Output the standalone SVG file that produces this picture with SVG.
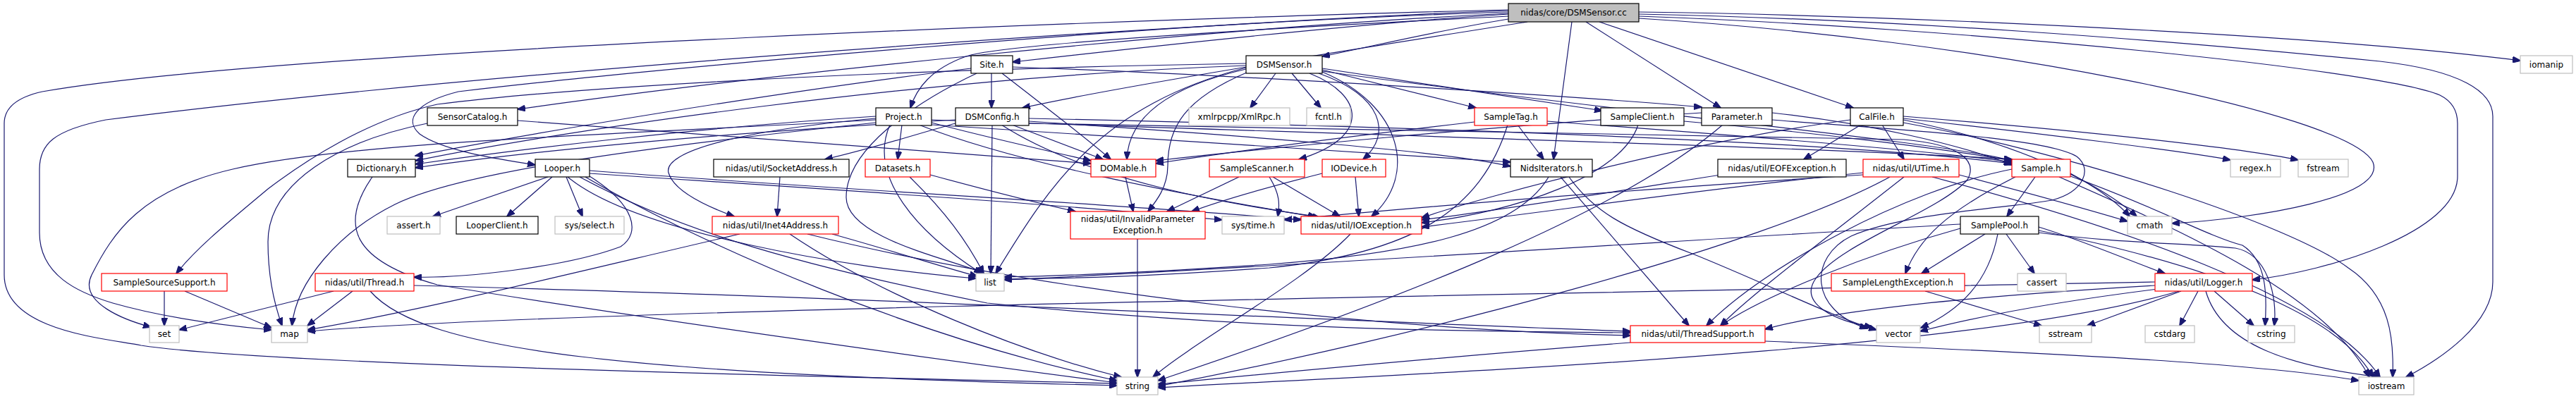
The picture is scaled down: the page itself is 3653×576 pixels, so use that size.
<svg xmlns="http://www.w3.org/2000/svg" width="3653" height="576" viewBox="0 0 3653 576">
<defs>
<marker id="a" markerWidth="12" markerHeight="9" refX="11" refY="4.5" orient="auto" markerUnits="userSpaceOnUse"><path d="M0,0 L12,4.5 L0,9 z" fill="#191970" stroke="#191970" stroke-width="1"/></marker>
</defs>
<style>
.e path{fill:none;stroke:#191970;stroke-width:1.2;marker-end:url(#a)}
rect{fill:#ffffff;stroke-width:1.2}
.k rect{stroke:#000000}
.r rect{stroke:#ff0000}
.g rect{stroke:#bfbfbf}
.root rect{fill:#bfbfbf;stroke:#000000}
text{font-family:"DejaVu Sans","Liberation Sans",sans-serif;font-size:12px;text-anchor:middle;fill:#000000}
</style>
<rect x="0" y="0" width="3653" height="576" fill="#ffffff" stroke="none"/>
<g id="edges" class="e">
<path d="M2139,14 C1700,24 400,70 60,130 C15,140 6,160 6,175 L6,390 C6,470 150,480 200,490 C400,520 1300,537 1584,544"/>
<path d="M2139,17 C1700,30 700,100 150,170 C75,185 56,205 56,240 L56,330 C56,390 110,415 160,430 C230,450 320,462 385,468"/>
<path d="M2139,20 C1900,35 1550,75 1436,88"/>
<path d="M2139,27 C2030,45 1950,65 1875,80"/>
<path d="M2166,31 C1950,65 1600,120 1450,153"/>
<path d="M2139,23 C1800,40 1420,62 1370,80 C1320,98 1300,125 1291,153"/>
<path d="M2139,19 C1700,40 1050,110 734,155"/>
<path d="M2139,15 C1600,35 900,100 650,130 C590,145 572,170 595,190 C630,215 710,226 759,234"/>
<path d="M2229,31 L2203,226"/>
<path d="M2249,31 L2440,153"/>
<path d="M2268,31 L2628,153"/>
<path d="M2324,17 C2700,22 3300,50 3574,86"/>
<path d="M2324,20 C2700,28 3050,55 3375,87 C3490,100 3535,130 3535,165 L3535,400 C3535,460 3460,510 3412,535"/>
<path d="M2324,23 C2800,40 3380,100 3460,135 C3480,145 3485,160 3485,175 L3485,250 C3485,330 3300,385 3194,397"/>
<path d="M2324,26 C2800,55 3330,160 3365,230 C3385,280 3200,310 3080,317"/>
<path d="M1406,104 L1406,153"/>
<path d="M1421,104 C1480,150 1540,195 1575,226"/>
<path d="M1436,95 C1800,108 2250,138 2413,152"/>
<path d="M1377,97 C1100,130 750,190 589,221"/>
<path d="M1385,104 C1330,130 1200,200 1200,280 C1200,340 1360,370 1395,388"/>
<path d="M1809,104 L1773,153"/>
<path d="M1832,104 L1873,153"/>
<path d="M1857,104 C1935,135 1945,195 1842,226"/>
<path d="M1870,104 C1960,135 1975,190 1933,226"/>
<path d="M1875,102 C1990,150 2010,250 1945,307"/>
<path d="M1875,99 L2093,153"/>
<path d="M1875,97 L2272,157"/>
<path d="M1767,98 C1650,125 1600,170 1598,226"/>
<path d="M1770,102 C1680,140 1656,180 1656,235 C1656,265 1640,285 1628,300"/>
<path d="M1767,96 C1560,150 1490,260 1412,388"/>
<path d="M1767,93 C1300,110 800,185 589,228"/>
<path d="M1767,90 C1200,100 800,125 620,148 C520,170 430,230 380,268 C330,310 280,350 250,388"/>
<path d="M1875,101 C2300,160 2750,200 2853,228"/>
<path d="M606,175 C480,200 380,260 380,343 C380,400 392,440 400,462"/>
<path d="M734,171 C1100,200 1400,220 1547,232"/>
<path d="M1279,177 L1273,226"/>
<path d="M1242,165 C1000,180 750,210 589,233"/>
<path d="M1321,174 C1400,195 1490,215 1547,228"/>
<path d="M1262,177 C1230,250 1300,330 1392,388"/>
<path d="M1303,177 C1450,235 1700,280 1872,309"/>
<path d="M1242,168 C1050,185 940,215 948,245 C955,270 1000,292 1041,307"/>
<path d="M1321,177 C1700,200 2000,220 2142,230"/>
<path d="M1242,174 C900,210 650,245 560,290 C480,330 420,400 414,462"/>
<path d="M1242,170 C900,190 500,200 330,240 C200,270 160,330 130,390 C110,430 180,455 214,464"/>
<path d="M1321,170 C1900,190 2600,210 2853,226"/>
<path d="M1407,177 L1405,388"/>
<path d="M1355,175 C1300,190 1240,210 1170,226"/>
<path d="M1435,177 L1564,226"/>
<path d="M1355,170 C1000,190 750,215 589,238"/>
<path d="M1459,172 C1800,195 2050,215 2142,236"/>
<path d="M1459,168 C2000,180 2600,200 2853,232"/>
<path d="M1420,177 C1550,260 1750,290 1866,307"/>
<path d="M1459,175 C1800,185 2300,188 2700,198 C2780,205 2805,228 2790,255 C2750,300 2610,345 2575,395 C2550,430 2600,455 2655,464"/>
<path d="M777,251 L614,307"/>
<path d="M783,251 L719,307"/>
<path d="M803,251 L826,307"/>
<path d="M836,250 C900,290 910,330 880,350 C800,380 650,395 587,393"/>
<path d="M836,242 C1200,270 1600,290 1845,312"/>
<path d="M836,246 C1200,270 1500,290 1733,312"/>
<path d="M822,251 C950,320 1100,370 1400,430 C1800,470 2100,470 2312,472"/>
<path d="M805,251 C900,330 1200,380 1384,395"/>
<path d="M830,251 C1000,350 1300,480 1584,540"/>
<path d="M528,251 C480,320 500,370 620,404 C900,450 1400,520 1584,543"/>
<path d="M1106,251 L1102,307"/>
<path d="M1049,332 C800,390 600,440 436,468"/>
<path d="M1120,332 C1250,420 1450,500 1590,535"/>
<path d="M1145,332 C1500,420 2000,470 2312,476"/>
<path d="M1180,332 C1280,360 1340,380 1386,392"/>
<path d="M1319,248 C1400,270 1480,290 1525,300"/>
<path d="M1290,251 C1340,300 1370,340 1395,388"/>
<path d="M1596,251 L1607,300"/>
<path d="M1757,251 L1655,300"/>
<path d="M1805,251 L1900,307"/>
<path d="M1800,251 C1815,275 1815,290 1812,307"/>
<path d="M1922,251 L1927,307"/>
<path d="M1875,246 C1800,265 1730,285 1690,300"/>
<path d="M1915,332 C1850,400 1700,480 1635,535"/>
<path d="M1613,339 L1613,535"/>
<path d="M2152,177 L2189,226"/>
<path d="M2091,173 C1900,195 1750,215 1639,232"/>
<path d="M2138,177 C2100,300 2000,360 1800,380 C1600,395 1480,395 1424,396"/>
<path d="M2194,172 C2500,195 2750,215 2853,230"/>
<path d="M2323,177 C2300,250 2150,300 2016,316"/>
<path d="M2388,172 C2600,190 2780,215 2853,228"/>
<path d="M2443,177 C2300,300 2000,420 1642,540"/>
<path d="M2413,160 C2100,180 1800,210 1639,228"/>
<path d="M2513,160 C2650,175 2780,205 2853,234"/>
<path d="M2513,170 C2700,185 2900,195 2945,222 C2968,240 2955,272 2910,284 C2850,295 2700,302 2625,335 C2565,365 2565,440 2648,466"/>
<path d="M2639,177 L2558,226"/>
<path d="M2669,177 L2700,226"/>
<path d="M2699,168 C2900,190 3100,215 3163,227"/>
<path d="M2699,165 C2950,185 3180,210 3259,227"/>
<path d="M2624,170 C2400,200 2100,280 2016,309"/>
<path d="M2699,174 C2950,220 3250,320 3330,380 C3390,420 3395,480 3393,535"/>
<path d="M2699,170 C2900,210 3000,280 3030,307"/>
<path d="M2213,251 L2395,462"/>
<path d="M2196,251 C2150,330 2000,360 1800,375 C1600,388 1480,392 1424,393"/>
<path d="M2225,251 C2260,300 2300,322 2400,360 C2500,400 2600,450 2661,468"/>
<path d="M2440,248 C2300,270 2150,295 2016,312"/>
<path d="M2642,245 C2400,270 2200,300 2016,322"/>
<path d="M2680,251 C2500,350 2000,480 1642,548"/>
<path d="M2642,248 C2300,270 2000,295 1821,312"/>
<path d="M2740,251 C3000,320 3300,420 3375,535"/>
<path d="M2700,251 C2600,330 2480,420 2440,462"/>
<path d="M2778,248 C2900,280 2970,300 3017,314"/>
<path d="M2886,251 L2846,307"/>
<path d="M2858,251 C2760,300 2720,340 2702,388"/>
<path d="M2936,246 C2980,270 3005,290 3020,307"/>
<path d="M2853,240 C2700,270 2500,380 2420,462"/>
<path d="M2920,251 C3100,330 3300,420 3360,535"/>
<path d="M2936,250 C3050,290 3130,335 3180,348 C3215,370 3215,420 3212,462"/>
<path d="M2845,332 L2885,388"/>
<path d="M2815,332 L2725,388"/>
<path d="M2833,332 C2820,400 2780,440 2724,465"/>
<path d="M2891,322 C2950,340 3020,370 3070,388"/>
<path d="M2780,324 C2650,360 2500,420 2440,462"/>
<path d="M2780,318 C2400,340 1800,380 1424,397"/>
<path d="M2891,330 C3000,345 3100,345 3170,352 C3215,360 3230,420 3225,462"/>
<path d="M2891,327 C3150,380 3320,450 3365,535"/>
<path d="M2730,413 L2895,462"/>
<path d="M3117,413 L3091,462"/>
<path d="M3140,413 L3196,462"/>
<path d="M3128,413 C3150,490 3250,520 3375,535"/>
<path d="M3056,405 C2800,420 2600,440 2503,467"/>
<path d="M3093,413 L2960,462"/>
<path d="M3060,410 C2900,430 2800,450 2723,470"/>
<path d="M3056,400 C2000,420 800,440 436,470"/>
<path d="M3090,413 C2800,500 2000,530 1642,550"/>
<path d="M473,413 L254,468"/>
<path d="M500,413 L436,462"/>
<path d="M525,413 C600,500 900,530 1584,547"/>
<path d="M587,405 C1200,420 2000,460 2312,470"/>
<path d="M233,413 L233,462"/>
<path d="M262,413 L385,465"/>
<path d="M2312,486 C2000,510 1800,530 1642,545"/>
<path d="M2503,484 C2900,500 3200,515 3345,540"/>
</g>
<g id="n_root" class="root"><rect x="2139" y="5" width="185" height="26"/><text x="2231.5" y="22">nidas/core/DSMSensor.cc</text></g>
<g id="n_site" class="k"><rect x="1377" y="79" width="59" height="25"/><text x="1406.5" y="95.5">Site.h</text></g>
<g id="n_dsmsensor" class="k"><rect x="1767" y="79" width="108" height="25"/><text x="1821" y="95.5">DSMSensor.h</text></g>
<g id="n_iomanip" class="g"><rect x="3574" y="79" width="74" height="25"/><text x="3611" y="95.5">iomanip</text></g>
<g id="n_sensorcatalog" class="k"><rect x="606" y="153" width="128" height="25"/><text x="670" y="169.5">SensorCatalog.h</text></g>
<g id="n_project" class="k"><rect x="1242" y="153" width="79" height="25"/><text x="1281.5" y="169.5">Project.h</text></g>
<g id="n_dsmconfig" class="k"><rect x="1355" y="153" width="104" height="25"/><text x="1407" y="169.5">DSMConfig.h</text></g>
<g id="n_xmlrpc" class="g"><rect x="1686" y="153" width="143" height="25"/><text x="1757.5" y="169.5">xmlrpcpp/XmlRpc.h</text></g>
<g id="n_fcntl" class="g"><rect x="1853" y="153" width="62" height="25"/><text x="1884" y="169.5">fcntl.h</text></g>
<g id="n_sampletag" class="r"><rect x="2091" y="153" width="103" height="25"/><text x="2142.5" y="169.5">SampleTag.h</text></g>
<g id="n_sampleclient" class="k"><rect x="2270" y="153" width="118" height="25"/><text x="2329" y="169.5">SampleClient.h</text></g>
<g id="n_parameter" class="k"><rect x="2413" y="153" width="100" height="25"/><text x="2463" y="169.5">Parameter.h</text></g>
<g id="n_calfile" class="k"><rect x="2624" y="153" width="75" height="25"/><text x="2661.5" y="169.5">CalFile.h</text></g>
<g id="n_dictionary" class="k"><rect x="493" y="226" width="96" height="25"/><text x="541" y="242.5">Dictionary.h</text></g>
<g id="n_looper" class="k"><rect x="759" y="226" width="77" height="25"/><text x="797.5" y="242.5">Looper.h</text></g>
<g id="n_socketaddress" class="k"><rect x="1012" y="226" width="192" height="25"/><text x="1108" y="242.5">nidas/util/SocketAddress.h</text></g>
<g id="n_datasets" class="r"><rect x="1227" y="226" width="92" height="25"/><text x="1273" y="242.5">Datasets.h</text></g>
<g id="n_domable" class="r"><rect x="1547" y="226" width="92" height="25"/><text x="1593" y="242.5">DOMable.h</text></g>
<g id="n_samplescanner" class="r"><rect x="1715" y="226" width="135" height="25"/><text x="1782.5" y="242.5">SampleScanner.h</text></g>
<g id="n_iodevice" class="r"><rect x="1875" y="226" width="90" height="25"/><text x="1920" y="242.5">IODevice.h</text></g>
<g id="n_niditerators" class="k"><rect x="2142" y="226" width="116" height="25"/><text x="2200" y="242.5">NidsIterators.h</text></g>
<g id="n_eofexception" class="k"><rect x="2436" y="226" width="182" height="25"/><text x="2527" y="242.5">nidas/util/EOFException.h</text></g>
<g id="n_utime" class="r"><rect x="2642" y="226" width="136" height="25"/><text x="2710" y="242.5">nidas/util/UTime.h</text></g>
<g id="n_sample" class="r"><rect x="2853" y="226" width="83" height="25"/><text x="2894.5" y="242.5">Sample.h</text></g>
<g id="n_regex" class="g"><rect x="3163" y="226" width="71" height="25"/><text x="3198.5" y="242.5">regex.h</text></g>
<g id="n_fstream" class="g"><rect x="3259" y="226" width="71" height="25"/><text x="3294.5" y="242.5">fstream</text></g>
<g id="n_assert" class="g"><rect x="549" y="307" width="75" height="25"/><text x="586.5" y="323.5">assert.h</text></g>
<g id="n_looperclient" class="k"><rect x="647" y="307" width="116" height="25"/><text x="705" y="323.5">LooperClient.h</text></g>
<g id="n_sysselect" class="g"><rect x="787" y="307" width="98" height="25"/><text x="836" y="323.5">sys/select.h</text></g>
<g id="n_inet4address" class="r"><rect x="1010" y="307" width="179" height="25"/><text x="1099.5" y="323.5">nidas/util/Inet4Address.h</text></g>
<g id="n_invalidparam" class="r"><rect x="1518" y="300" width="191" height="39"/><text x="1613.5" y="315">nidas/util/InvalidParameter</text><text x="1613.5" y="331">Exception.h</text></g>
<g id="n_systime" class="g"><rect x="1733" y="307" width="88" height="25"/><text x="1777" y="323.5">sys/time.h</text></g>
<g id="n_ioexception" class="r"><rect x="1845" y="307" width="171" height="25"/><text x="1930.5" y="323.5">nidas/util/IOException.h</text></g>
<g id="n_samplepool" class="k"><rect x="2780" y="307" width="111" height="25"/><text x="2835.5" y="323.5">SamplePool.h</text></g>
<g id="n_cmath" class="g"><rect x="3017" y="307" width="63" height="25"/><text x="3048.5" y="323.5">cmath</text></g>
<g id="n_samplesourcesupport" class="r"><rect x="144" y="388" width="178" height="25"/><text x="233" y="404.5">SampleSourceSupport.h</text></g>
<g id="n_thread" class="r"><rect x="447" y="388" width="140" height="25"/><text x="517" y="404.5">nidas/util/Thread.h</text></g>
<g id="n_list" class="g"><rect x="1384" y="388" width="40" height="25"/><text x="1404" y="404.5">list</text></g>
<g id="n_samplelengthexception" class="r"><rect x="2597" y="388" width="189" height="25"/><text x="2691.5" y="404.5">SampleLengthException.h</text></g>
<g id="n_cassert" class="g"><rect x="2861" y="388" width="69" height="25"/><text x="2895.5" y="404.5">cassert</text></g>
<g id="n_logger" class="r"><rect x="3056" y="388" width="138" height="25"/><text x="3125" y="404.5">nidas/util/Logger.h</text></g>
<g id="n_set" class="g"><rect x="212" y="462" width="42" height="24"/><text x="233" y="478">set</text></g>
<g id="n_map" class="g"><rect x="385" y="462" width="51" height="24"/><text x="410.5" y="478">map</text></g>
<g id="n_threadsupport" class="r"><rect x="2312" y="462" width="191" height="24"/><text x="2407.5" y="478">nidas/util/ThreadSupport.h</text></g>
<g id="n_vector" class="g"><rect x="2661" y="462" width="62" height="24"/><text x="2692" y="478">vector</text></g>
<g id="n_sstream" class="g"><rect x="2892" y="462" width="74" height="24"/><text x="2929" y="478">sstream</text></g>
<g id="n_cstdarg" class="g"><rect x="3042" y="462" width="70" height="24"/><text x="3077" y="478">cstdarg</text></g>
<g id="n_cstring" class="g"><rect x="3188" y="462" width="66" height="24"/><text x="3221" y="478">cstring</text></g>
<g id="n_string" class="g"><rect x="1584" y="535" width="58" height="25"/><text x="1613" y="551.5">string</text></g>
<g id="n_iostream" class="g"><rect x="3345" y="535" width="78" height="25"/><text x="3384" y="551.5">iostream</text></g>
</svg>
